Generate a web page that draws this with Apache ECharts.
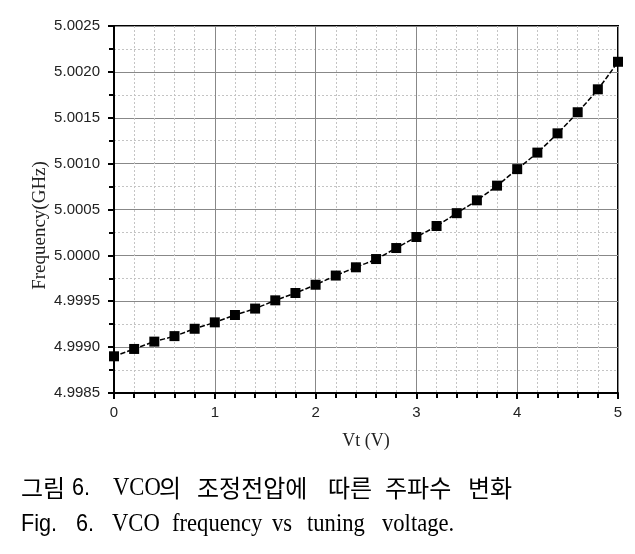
<!DOCTYPE html>
<html>
<head>
<meta charset="utf-8">
<script src="https://cdn.jsdelivr.net/npm/echarts@6/dist/echarts.min.js"></script>
<style>html,body{margin:0;padding:0;background:#fff;}#c{width:635px;height:554px;}</style>
</head>
<body>
<div id="c"></div>
<script>
const vt = [0, 0.2, 0.4, 0.6, 0.8, 1.0, 1.2, 1.4, 1.6, 1.8, 2.0, 2.2, 2.4, 2.6, 2.8, 3.0, 3.2, 3.4, 3.6, 3.8, 4.0, 4.2, 4.4, 4.6, 4.8, 5.0];
const freq = [4.99890, 4.99898, 4.99906, 4.99912, 4.99920, 4.99927, 4.99935, 4.99942, 4.99951, 4.99959, 4.99968, 4.99978, 4.99987, 4.99996, 5.00008, 5.00020, 5.00032, 5.00046, 5.00060, 5.00076, 5.00094, 5.00112, 5.00133, 5.00156, 5.00181, 5.00211];
const xTitle = 'Vt (V)';
const yTitle = 'Frequency(GHz)';
const captionKoWords = ['그림', '6.', 'VCO', '의', '조정전압에', '따른', '주파수', '변화'];
const captionEnWords = ['Fig.', '6.', 'VCO', 'frequency', 'vs', 'tuning', 'voltage.'];

const chart = echarts.init(document.getElementById('c'), null, {renderer: 'canvas'});
const sans = 'Liberation Sans, Arial, sans-serif';
const serif = 'Liberation Serif, Times New Roman, serif';

// caption word layout (x position, font kind)
const koX = [21, 72, 113, 159, 197, 328, 385, 468];
const koFont = ['ko', 'sans', 'serif', 'ko', 'ko', 'ko', 'ko', 'ko'];
const enX = [21, 76, 112, 172, 272, 307, 382];
const enFont = ['sans', 'sans', 'serif', 'serif', 'serif', 'serif', 'serif'];
function fontFor(kind) {
  if (kind === 'ko') return {font: '24px "Noto Sans CJK KR"', scaleX: 1};
  if (kind === 'sans') return {font: '24px "Liberation Sans"', scaleX: 0.9};
  return {font: '26px "Liberation Serif"', scaleX: 0.87};
}
const graphics = [];
captionKoWords.forEach((w, i) => {
  const f = fontFor(koFont[i]);
  graphics.push({type: 'text', x: koX[i], y: 488, scaleX: f.scaleX,
    style: {text: w, font: f.font, fill: '#000', verticalAlign: 'middle', align: 'left'}});
});
captionEnWords.forEach((w, i) => {
  const f = fontFor(enFont[i]);
  graphics.push({type: 'text', x: enX[i], y: 524, scaleX: f.scaleX,
    style: {text: w, font: f.font, fill: '#000', verticalAlign: 'middle', align: 'left'}});
});

chart.setOption({
  animation: false,
  backgroundColor: '#fff',
  grid: {left: 114, top: 26, right: 17, bottom: 161, show: true, borderColor: '#000', borderWidth: 2, backgroundColor: 'transparent'},
  xAxis: {
    type: 'value', min: 0, max: 5, interval: 1,
    name: xTitle, nameLocation: 'middle', nameGap: 39, nameMoveOverlap: false,
    nameTextStyle: {fontFamily: serif, fontSize: 18, color: '#222'},
    axisLine: {show: true, lineStyle: {color: '#000', width: 2}},
    axisTick: {show: true, length: 6, lineStyle: {color: '#000', width: 2}},
    minorTick: {show: true, splitNumber: 5, length: 5, lineStyle: {color: '#000', width: 2}},
    axisLabel: {fontFamily: sans, fontSize: 15, color: '#222', margin: 12},
    splitLine: {show: true, lineStyle: {color: '#888', width: 1}},
    minorSplitLine: {show: true, lineStyle: {color: '#c4c4c4', width: 1, type: [2, 2]}}
  },
  yAxis: {
    type: 'value', min: 4.9985, max: 5.0025, interval: 0.0005,
    name: yTitle, nameLocation: 'middle', nameGap: 64, nameRotate: 90, nameMoveOverlap: false,
    nameTextStyle: {fontFamily: serif, fontSize: 19, color: '#222', padding: [0, 32, 0, 0]},
    axisLine: {show: true, lineStyle: {color: '#000', width: 2}},
    axisTick: {show: true, length: 6, lineStyle: {color: '#000', width: 2}},
    minorTick: {show: true, splitNumber: 2, length: 5, lineStyle: {color: '#000', width: 2}},
    axisLabel: {fontFamily: sans, fontSize: 15, color: '#222', margin: 14, formatter: v => v.toFixed(4)},
    splitLine: {show: true, lineStyle: {color: '#888', width: 1}},
    minorSplitLine: {show: true, lineStyle: {color: '#c4c4c4', width: 1, type: [2, 2]}}
  },
  series: [{
    type: 'line',
    data: vt.map((x, i) => [x, freq[i]]),
    smooth: 0.3,
    symbol: 'rect', symbolSize: 10,
    itemStyle: {color: '#000'},
    lineStyle: {color: '#000', width: 1.5, type: [5, 2]},
    clip: false
  }],
  graphic: graphics
});
</script>
</body>
</html>
